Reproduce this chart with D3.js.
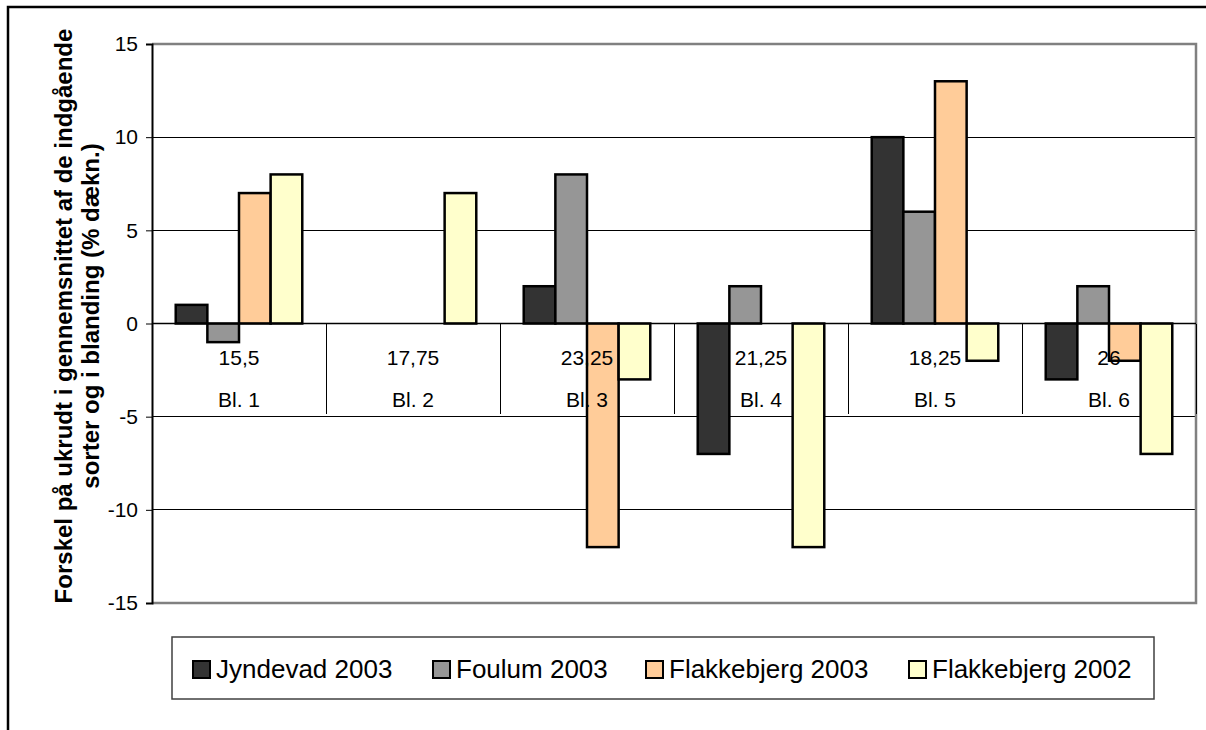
<!DOCTYPE html>
<html>
<head>
<meta charset="utf-8">
<script src="https://cdn.jsdelivr.net/npm/d3@7"></script>
<style>
html,body{margin:0;padding:0;background:#fff;overflow:hidden;}
svg{display:block;font-family:Arial,"Liberation Sans",sans-serif;}
</style>
</head>
<body>
<svg id="chart" width="1206" height="730"></svg>
<script>
const blocks = ["Bl. 1","Bl. 2","Bl. 3","Bl. 4","Bl. 5","Bl. 6"];
const blockValues = ["15,5","17,75","23,25","21,25","18,25","26"];
const seriesNames = ["Jyndevad 2003","Foulum 2003","Flakkebjerg 2003","Flakkebjerg 2002"];
const jyndevad2003 = [1, 0, 2, -7, 10, -3];
const foulum2003 = [-1, 0, 8, 2, 6, 2];
const flakkebjerg2003 = [7, 0, -12, 0, 13, -2];
const flakkebjerg2002 = [8, 7, -3, -12, -2, -7];
const yTicks = [-15,-10,-5,0,5,10,15];
const colors = ["#333333","#969696","#FFCC99","#FFFFCC"];
const yTitle = ["Forskel på ukrudt i gennemsnittet af de indgående","sorter og i blanding (% dækn.)"];

const series = [jyndevad2003, foulum2003, flakkebjerg2003, flakkebjerg2002];

const svg = d3.select("#chart");
const L = 152, R = 1196, T = 44, B = 603;

// outer border
svg.append("rect").attr("x",8).attr("y",7).attr("width",1220).attr("height",760)
  .attr("fill","none").attr("stroke","#000").attr("stroke-width",2.5);

const y = d3.scaleLinear().domain([-15,15]).range([B,T]);
const x = d3.scaleBand().domain(blocks).range([L,R]).padding(0);
const bw = x.bandwidth();
const barW = bw/5.5;
const xs = d3.scaleBand().domain(d3.range(seriesNames.length)).range([0.75*barW, 0.75*barW + 4*barW]).padding(0);

// gridlines
svg.append("g").selectAll("line").data(yTicks.filter(t=>t!==0 && t!==15 && t!==-15)).join("line")
  .attr("x1",L).attr("x2",R).attr("y1",d=>y(d)).attr("y2",d=>y(d))
  .attr("stroke","#000").attr("stroke-width",1).attr("shape-rendering","crispEdges");

// plot border (gray)
svg.append("path").attr("d",`M${L},${T}H${R}V${B}H${L}`)
  .attr("fill","none").attr("stroke","#808080").attr("stroke-width",2.5);

// category axis tick marks
svg.append("g").selectAll("line").data(d3.range(blocks.length+1)).join("line")
  .attr("x1",i=>L + i*bw).attr("x2",i=>L + i*bw)
  .attr("y1",y(0)).attr("y2",y(0)+90)
  .attr("stroke","#000").attr("stroke-width",1).attr("shape-rendering","crispEdges");

// bars
const data = [];
blocks.forEach((b,i)=>series.forEach((s,j)=>data.push({b, j, v:s[i]})));
svg.append("g").selectAll("rect").data(data.filter(d=>d.v!==0)).join("rect")
  .attr("x",d=>x(d.b)+xs(d.j))
  .attr("width",xs.bandwidth())
  .attr("y",d=>y(Math.max(0,d.v)))
  .attr("height",d=>Math.abs(y(d.v)-y(0)))
  .attr("fill",d=>colors[d.j]).attr("stroke","#000").attr("stroke-width",2.5);

// zero axis line
svg.append("line").attr("x1",L).attr("x2",R).attr("y1",y(0)).attr("y2",y(0))
  .attr("stroke","#000").attr("stroke-width",1.5);

// category labels
const cat = svg.append("g").attr("font-size",21).attr("fill","#000").attr("text-anchor","middle");
cat.selectAll("text.v").data(blocks).join("text").attr("class","v")
  .attr("x",d=>x(d)+bw/2).attr("y",y(0)+41).text((d,i)=>blockValues[i]);
cat.selectAll("text.b").data(blocks).join("text").attr("class","b")
  .attr("x",d=>x(d)+bw/2).attr("y",y(0)+83).text(d=>d);

// y axis
const yAxis = d3.axisLeft(y).tickValues(yTicks).tickSize(6).tickPadding(8).tickFormat(d3.format("d"));
const ga = svg.append("g").attr("transform",`translate(${L},0)`).call(yAxis);
ga.select(".domain").attr("stroke","#000").attr("stroke-width",2);
ga.selectAll(".tick line").attr("stroke","#000");
ga.selectAll(".tick text").attr("font-size",21).attr("font-family","Arial, 'Liberation Sans', sans-serif").attr("fill","#000")
  .text(d=>d<0 ? "-"+Math.abs(d) : d);

// y title
const yt = svg.append("text").attr("transform","translate(72,316) rotate(-90)")
  .attr("text-anchor","middle").attr("font-weight","bold").attr("font-size",24).attr("fill","#000");
yt.selectAll("tspan").data(yTitle).join("tspan")
  .attr("x",0).attr("dy",(d,i)=>i===0?"0":"27px").text(d=>d);

// legend
svg.append("rect").attr("x",172).attr("y",637).attr("width",982).attr("height",62)
  .attr("fill","#fff").attr("stroke","#404040").attr("stroke-width",1.5);
const legX = [193, 433, 646, 909];
const lg = svg.append("g").selectAll("g").data(seriesNames).join("g")
  .attr("transform",(d,i)=>`translate(${legX[i]},661)`);
lg.append("rect").attr("width",17).attr("height",17)
  .attr("fill",(d,i)=>colors[i]).attr("stroke","#000").attr("stroke-width",2);
lg.append("text").attr("x",23).attr("y",17).attr("font-size",26).attr("fill","#000").text(d=>d);
</script>
</body>
</html>
